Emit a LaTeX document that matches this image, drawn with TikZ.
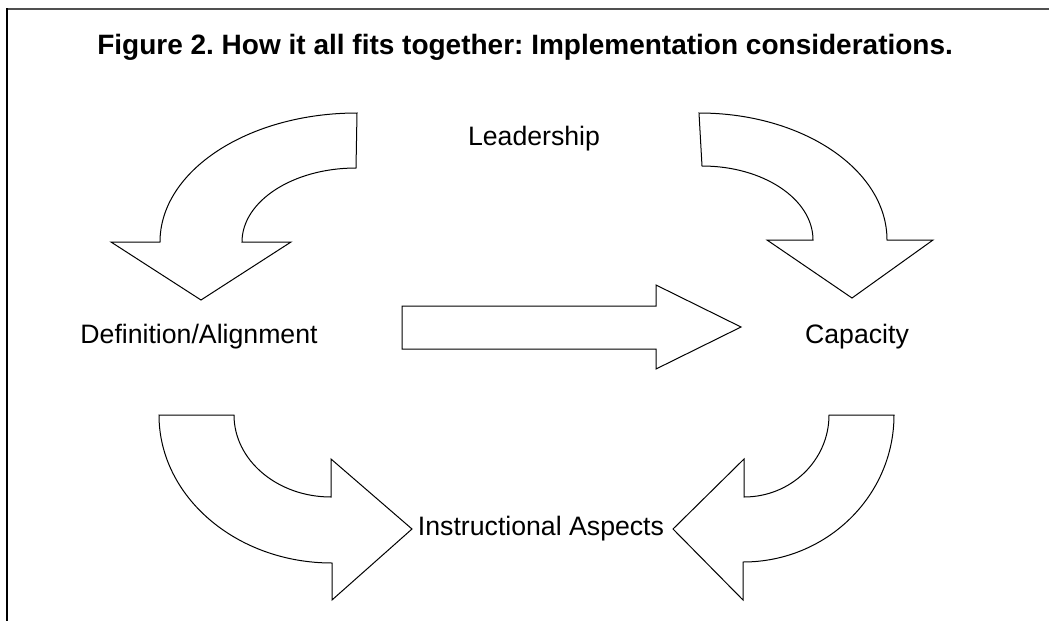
\documentclass[tikz,border=0pt]{standalone}
\usepackage{fontspec}
\setmainfont{Liberation Sans}
\usepackage{xcolor}
\usetikzlibrary{arrows.meta,positioning,calc}
\frenchspacing

\definecolor{framegray}{HTML}{505050}

\begin{document}
\begin{tikzpicture}[x=0.75pt, y=-0.75pt,
                    every node/.style={font=\fontsize{20}{24}\selectfont, inner sep=0pt},
                    blockarrow/.style={draw, line width=0.75pt, line join=miter, fill=white}]
                                \useasboundingbox (0,0) rectangle (1049,621);

                                % frame, open at the right and at the bottom
                                \draw[framegray, line width=1.6pt] (6,9) -- (1049,9);
                                \draw[black, line width=1.6pt] (7,8.2) -- (7,621);

                                \node[anchor=west, font=\fontsize{21}{25}\selectfont\bfseries] (t) at (97,47)
                                    {Figure 2. How it all fits together: Implementation considerations.};

                                \node (l) at (534,139) {Leadership};
                                \node (d) at (199,337) {Definition/Alignment};
                                \node (c) at (857,337) {Capacity};
                                \node (i) at (541,529) {Instructional Aspects};

                                % top left: Leadership down to Definition/Alignment
                                \draw[blockarrow] (357,113) arc[start angle=-90, end angle=-180, x radius=197, y radius=129]
                                    -- (111,242) -- (201,300) -- (291,242) -- (242,242)
                                    arc[start angle=180, end angle=270, x radius=114, y radius=74] -- cycle;

                                % top right: Leadership down to Capacity
                                \draw[blockarrow] (699,113) arc[start angle=-90, end angle=0, x radius=188, y radius=127]
                                    -- (933,240) -- (852,298) -- (767,240) -- (813,240)
                                    arc[start angle=0, end angle=-90, x radius=111, y radius=74] -- cycle;

                                % middle: Definition/Alignment to Capacity
                                \draw[blockarrow] (402,306) -- (656,306) -- (656,285) -- (741,327)
                                    -- (656,369) -- (656,349) -- (402,349) -- cycle;

                                % bottom left: Definition/Alignment to Instructional Aspects
                                \draw[blockarrow] (159,415) arc[start angle=180, end angle=90, x radius=173, y radius=148]
                                    -- (332,600) -- (412,529) -- (331,459) -- (331,497)
                                    arc[start angle=90, end angle=180, x radius=97, y radius=82] -- cycle;

                                % bottom right: Capacity to Instructional Aspects
                                \draw[blockarrow] (894,415) arc[start angle=0, end angle=90, x radius=151, y radius=147]
                                    -- (743,600) -- (673,529) -- (744,459) -- (744,497)
                                    arc[start angle=90, end angle=0, x radius=85, y radius=82] -- cycle;
                            \end{tikzpicture}
\end{document}
